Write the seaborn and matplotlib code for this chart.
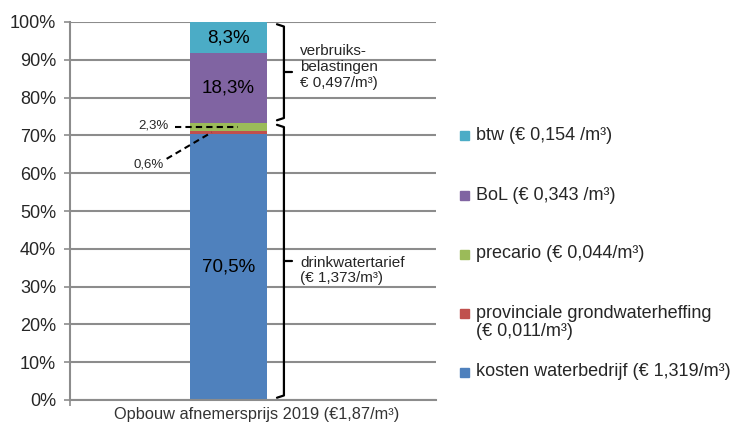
import matplotlib
matplotlib.use("Agg")
import matplotlib.pyplot as plt
import numpy as np
import seaborn as sns
from matplotlib.patches import Rectangle

# Data (bottom -> top of the stacked bar)
category = "Opbouw afnemersprijs 2019 (€1,87/m³)"
segments = ["kosten waterbedrijf", "provinciale grondwaterheffing", "precario", "BoL", "btw"]
shares = [70.5, 0.6, 2.3, 18.3, 8.3]
legend_labels = [
    "kosten waterbedrijf (€ 1,319/m³)",
    "provinciale grondwaterheffing\n(€ 0,011/m³)",
    "precario (€ 0,044/m³)",
    "BoL (€ 0,343 /m³)",
    "btw (€ 0,154 /m³)",
]
colors = ["#4F81BD", "#C0504D", "#9BBB59", "#8064A2", "#4BACC6"]
y_ticks = [0, 10, 20, 30, 40, 50, 60, 70, 80, 90, 100]
y_tick_labels = [f"{t}%" for t in y_ticks]

# groups for the braces: (first segment, last segment, text)
groups = [
    (0, 2, "drinkwatertarief\n(€ 1,373/m³)"),
    (3, 4, "verbruiks-\nbelastingen\n€ 0,497/m³)"),
]

sns.set_style("white")
plt.rcParams["font.family"] = ["Liberation Sans", "DejaVu Sans"]

fig = plt.figure(figsize=(7.38, 4.26), dpi=100)
ax = fig.add_axes([70 / 738, 26 / 426, 366 / 738, 378 / 426])

XL, XR = -0.866, 1.134
BAR_W = 0.421
GRAY = "#8c8c8c"

bottoms = np.concatenate([[0], np.cumsum(shares)[:-1]])
for val, bot, col in zip(shares, bottoms, colors):
    sns.barplot(x=[category], y=[val], bottom=bot, color=col, width=BAR_W,
                saturation=1, errorbar=None, ax=ax, linewidth=0, zorder=2)

ax.set_xlim(XL, XR)
ax.set_ylim(0, 100)
ax.set_yticks(y_ticks)
ax.set_yticklabels(y_tick_labels)
ax.yaxis.grid(True, color=GRAY, lw=1.5)
ax.set_axisbelow(True)
ax.set_xticks([XL])
ax.set_xticklabels([""])
ax.set_xlabel("")
ax.set_ylabel("")
ax.tick_params(axis="y", length=4, width=1.2, color=GRAY, labelsize=13, pad=6, left=True)
ax.tick_params(axis="x", length=4, width=1.2, color=GRAY, bottom=True)
for side in ["top", "right"]:
    ax.spines[side].set_visible(False)
for side in ["left", "bottom"]:
    ax.spines[side].set_color(GRAY)
    ax.spines[side].set_linewidth(1.5)

# labels inside the big segments
for val, bot in zip(shares, bottoms):
    if val > 5:
        ax.text(0, bot + val / 2, f"{val:.1f}".replace(".", ",") + "%",
                ha="center", va="center", fontsize=13.5, color="black", zorder=3)

# leader lines for the thin segments
prov_mid = bottoms[1] + shares[1] / 2
prec_mid = bottoms[2] + shares[2] / 2
ax.plot([-0.292, 0.052], [prec_mid, prec_mid], color="black", lw=1.5, ls=(0, (3, 2)), zorder=4)
ax.text(-0.412, prec_mid + 0.3, f"{shares[2]:.1f}".replace(".", ",") + "%",
        ha="center", va="center", fontsize=9.5)
ax.plot([-0.338, -0.092], [63.8, prov_mid], color="black", lw=1.5, ls=(0, (3, 2)), zorder=4)
ax.text(-0.434, 62.4, f"{shares[1]:.1f}".replace(".", ",") + "%",
        ha="center", va="center", fontsize=9.5)

# braces
x_hook, x_vert, x_tip, x_txt = 0.265, 0.303, 0.347, 0.391
text_shift = [-2.4, 1.4]
for (first, last, txt), dy in zip(groups, text_shift):
    lo = bottoms[first] + 0.6
    hi = bottoms[last] + shares[last] - 0.6
    mid = (bottoms[first] + bottoms[last] + shares[last]) / 2
    ax.plot([x_hook, x_vert, x_vert, x_hook], [hi, hi - 0.6, lo + 0.6, lo],
            color="black", lw=1.6, solid_joinstyle="round", clip_on=False)
    ax.plot([x_vert, x_tip], [mid, mid], color="black", lw=1.6, clip_on=False)
    ax.text(x_txt, mid + dy, txt, ha="left", va="center", fontsize=11, linespacing=1.15)

# category label under the axis
ax.text(0.511, -15 / 378, category, transform=ax.transAxes, ha="center", va="center",
        fontsize=11.8, color="#333333")

# legend (top -> bottom: btw first)
for i, k in enumerate(reversed(range(len(segments)))):
    y_px = 136 + 59 * i
    yf = 1 - y_px / 426
    fig.patches.append(Rectangle((460 / 738, yf - 4.5 / 426), 9 / 738, 9 / 426,
                                 transform=fig.transFigure, color=colors[k], figure=fig))
    lines = legend_labels[k].split("\n")
    for j, line in enumerate(lines):
        fig.text(476 / 738, 1 - (y_px + 19 * j) / 426, line, ha="left", va="center",
                 fontsize=13)

fig.savefig("out.png", dpi=100)
